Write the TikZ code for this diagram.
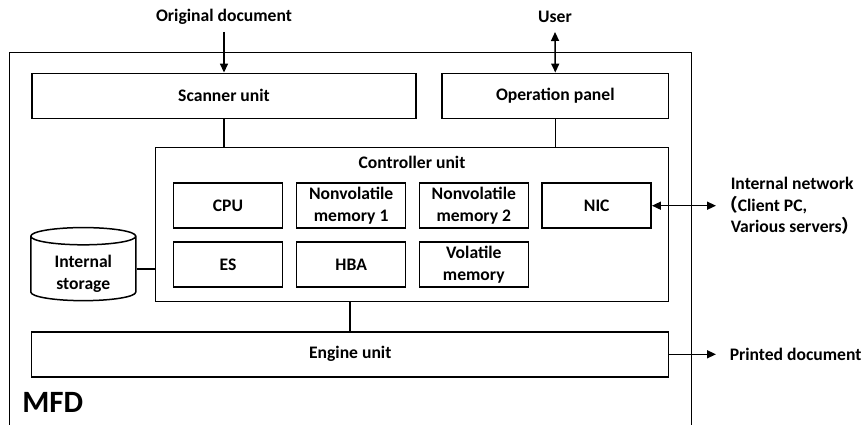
\documentclass[tikz,border=0pt]{standalone}
\usepackage{fontspec}
\setmainfont{Carlito}
\newfontfamily\cjk{Noto Sans CJK SC}
\usetikzlibrary{shapes.geometric,arrows.meta}

\begin{document}
\begin{tikzpicture}[x=1pt,y=-1pt,line width=1.5pt,
	font=\fontsize{17.6}{21.5}\selectfont\bfseries,
	>={Triangle[length=9pt,width=8pt]},
	unit/.style={draw,rectangle,inner sep=0pt,minimum height=45pt},
	part/.style={draw,rectangle,inner sep=0pt,minimum width=109pt,minimum height=45pt,align=center},
	outside/.style={anchor=west,inner sep=0pt}]
	\useasboundingbox (0,0) rectangle (862,425);
	\draw (9.5,430) -- (9.5,52.7) -- (691.7,52.7) -- (691.7,430);
	\node[outside,font=\fontsize{31}{36}\selectfont\bfseries] (mfd) at (21.5,402) {MFD};
	
	\node (orig) at (224,17) {Original document};
	\node (user) at (555,17) {User};
	\path
	(224,32) coordinate (origtail)
	(555,32) coordinate (usertail)
	(716,205.7) coordinate (net)
	(716,354.3) coordinate (out)
	;
	
	\node[unit,minimum width=384pt] (scanner) at (224,95.8) {Scanner unit};
	\node[unit,minimum width=226.7pt] (panel) at (555.3,95.8) {Operation panel};
	\node[draw,rectangle,minimum width=513pt,minimum height=154pt] (ctrl) at (412.2,224.3) {};
	\node (ctrllabel) at (412,162) {Controller unit};
	\node[part] (cpu) at (228,205.7) {CPU};
	\node[part] (nvm1) at (351.2,205.7) {Nonvolatile\\memory 1};
	\node[part] (nvm2) at (473.8,205.7) {Nonvolatile\\memory 2};
	\node[part] (nic) at (596.7,205.7) {NIC};
	\node[part] (es) at (228,264.5) {ES};
	\node[part] (hba) at (351.2,264.5) {HBA};
	\node[part] (vmem) at (473.8,264.5) {Volatile\\memory};
	\node[draw,cylinder,shape border rotate=90,aspect=0.3,inner sep=0pt,
		minimum width=105pt,minimum height=68pt,align=center] (storage) at (83.3,268.8) {\rule{0pt}{22pt}Internal\\storage};
	\node[unit,minimum width=637pt] (engine) at (350.2,354.3) {Engine unit};
	
	\node[outside,align=left] (netlabel) at (730,206) {Internal network\\\hspace*{-0.6em}{\cjk （}Client PC,\\Various servers{\cjk ）}};
	\node[outside] (printed) at (729,354.3) {Printed document};
	
	\draw[->] (origtail) -- (scanner.north);
	\draw[<->] (usertail) -- (panel.north);
	\draw (scanner.south) -- (scanner.south |- ctrl.north);
	\draw (panel.south) -- (panel.south |- ctrl.north);
	\draw (storage.east) -- (storage.east -| ctrl.west);
	\draw (engine.north) -- (engine.north |- ctrl.south);
	\draw[<->] (nic.east) -- (net);
	\draw[->] (engine.east) -- (out);
\end{tikzpicture}
\end{document}
